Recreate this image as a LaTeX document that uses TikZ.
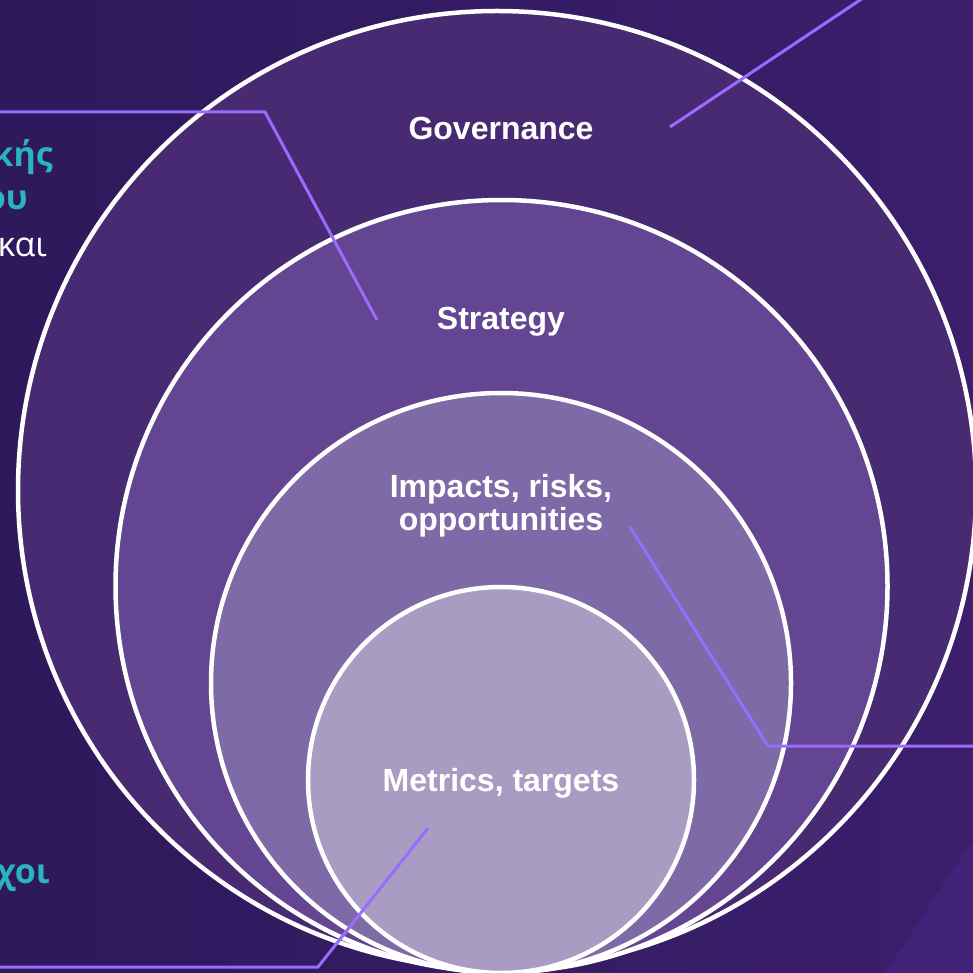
\documentclass[tikz,border=0pt]{standalone}
\usepackage{fontspec}
\setmainfont{Liberation Sans}
\newfontfamily\greekfont{Open Sans}
\definecolor{bgleft}{HTML}{2D195B}
\definecolor{bgright}{HTML}{3C1E6C}
\definecolor{streakfill}{HTML}{42237A}
\definecolor{govfill}{HTML}{482A72}
\definecolor{strfill}{HTML}{634592}
\definecolor{irofill}{HTML}{7E6AA6}
\definecolor{metfill}{HTML}{A99CC2}
\definecolor{lineviolet}{HTML}{9A6BFF}
\definecolor{greekteal}{HTML}{2BB3C0}
\tikzset{
  ring/.style={draw=white, line width=4.5pt},
  lbl/.style={text=white, font=\fontsize{32}{33}\selectfont\bfseries, align=center, inner sep=0pt},
  callout/.style={draw=lineviolet, line width=3pt},
  frag/.style={font=\greekfont\fontsize{34}{36}\selectfont, inner sep=0pt, anchor=base east},
  fragbold/.style={frag, text=greekteal, font=\greekfont\fontsize{34}{36}\selectfont\bfseries}
}

\begin{document}
\begin{tikzpicture}[x=1pt,y=-1pt]
    \useasboundingbox (0,0) rectangle (973,973);
    \shade[left color=bgleft, right color=bgright] (0,0) rectangle (973,973);
    \fill[streakfill] (973,840) -- (973,973) -- (885,973) -- cycle;

    \draw[ring, fill=govfill] (497,490) circle (479pt);
    \draw[ring, fill=strfill] (501.5,586) circle (386pt);
    \draw[ring, fill=irofill] (501,683) circle (290pt);
    \draw[ring, fill=metfill] (501,780) circle (193pt);

    \node[lbl, anchor=base] (gov) at (501,140) {Governance};
    \node[lbl, anchor=base] (str) at (501,329) {Strategy};
    \node[lbl] (iro) at (501,506) {Impacts, risks,\\opportunities};
    \node[lbl, anchor=base] (met) at (501,791) {Metrics, targets};

    \node[fragbold] (g1) at (53,167) {κής};
    \node[fragbold] (g2) at (28,210) {ου};
    \node[frag, text=white] (g3) at (47,257) {και};
    \node[fragbold] (g4) at (50,883) {χοι};

    \coordinate (s1) at (377,320);
    \coordinate (s2) at (265,112);
    \coordinate (s3) at (-5,112);
    \coordinate (v1) at (670,127);
    \coordinate (v2) at (875,-10);
    \coordinate (i1) at (630,527);
    \coordinate (i2) at (768,746);
    \coordinate (i3) at (980,746);
    \coordinate (m1) at (428,828);
    \coordinate (m2) at (318,967);
    \coordinate (m3) at (-5,967);

    \draw[callout] (s1) -- (s2) -- (s3);
    \draw[callout] (v1) -- (v2);
    \draw[callout] (i1) -- (i2) -- (i3);
    \draw[callout] (m1) -- (m2) -- (m3);
\end{tikzpicture}
\end{document}
